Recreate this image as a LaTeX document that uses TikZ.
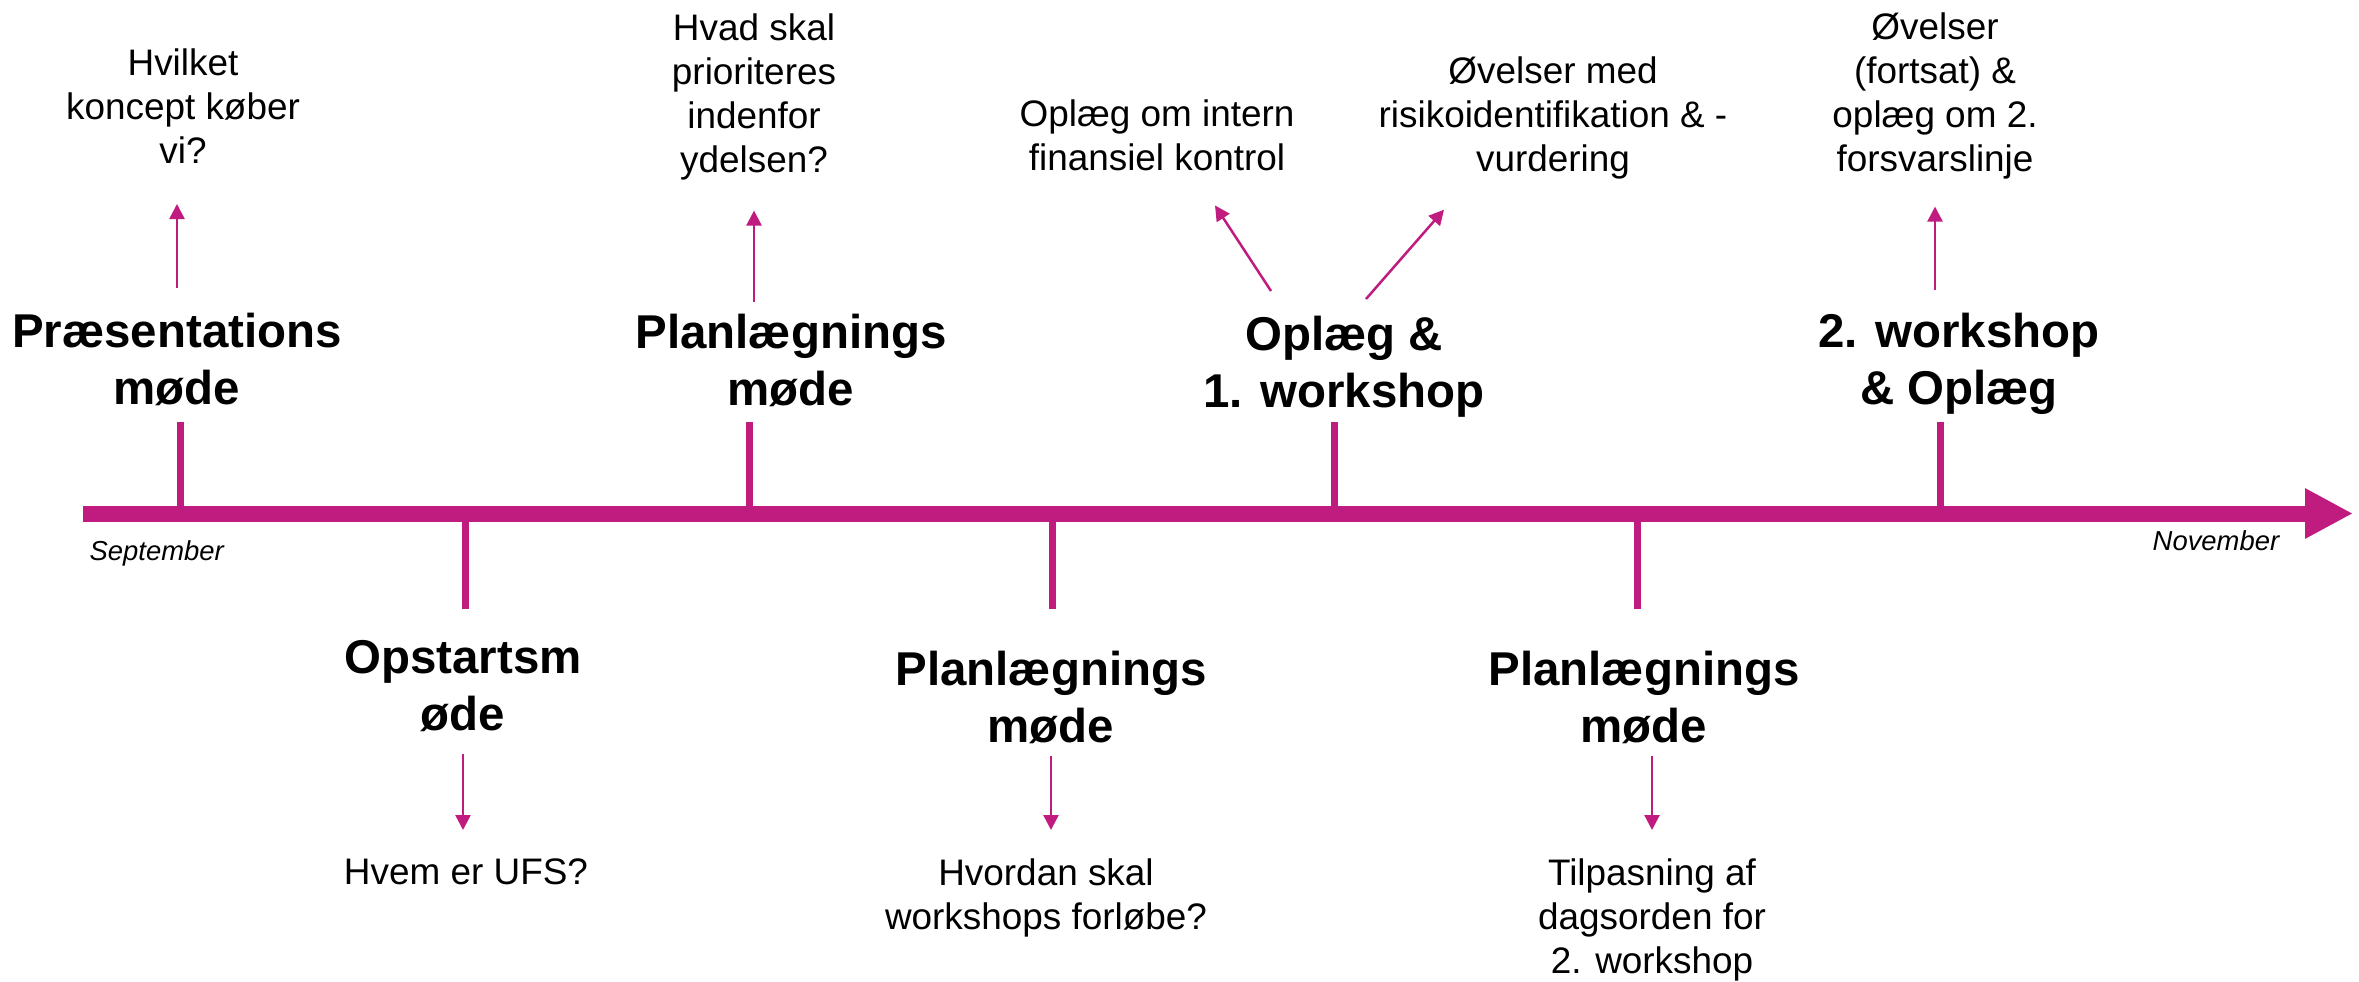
\documentclass[tikz,border=0pt]{standalone}
\usepackage{fontspec}
\setmainfont{Liberation Sans}
\usetikzlibrary{arrows.meta}
\definecolor{ufs}{RGB}{192,28,128}

\begin{document}
\begin{tikzpicture}[
axis/.style={line width=0.16cm, color=ufs, -{Triangle[length=0.48cm, width=0.47cm]}},
tick/.style={line width=0.07cm, color=ufs},
sub/.style={line width=0.025cm, color=ufs, -{Triangle[length=0.15cm, width=0.15cm]}},
title/.style={inner sep=0, anchor=north, align=center, font=\fontsize{13.5}{16.2}\selectfont\bfseries},
note/.style={inner sep=0, anchor=north, align=center, font=\fontsize{10.5}{12.5}\selectfont},
month/.style={inner sep=0, anchor=base west, font=\fontsize{7.8}{9}\selectfont\itshape}]

\useasboundingbox (0,0) rectangle (23.59,-9.82);

\coordinate (s) at (0.83,-5.135);
\coordinate (e) at (23.53,-5.135);
\draw[axis] (s) -- (e);

\foreach \n/\x/\d in {1/1.80/0.91,2/4.65/-0.95,3/7.49/0.91,4/10.52/-0.95,5/13.34/0.91,6/16.37/-0.95,7/19.40/0.91}
{\coordinate (b\n) at (\x,-5.135);
\coordinate (h\n) at (\x,{-5.135+(\d)});
\draw[tick] (b\n) -- (h\n);}

\node[title] (t1) at (1.77,-3.12) {Præsentations\\møde};
\node[title] (t2) at (4.63,-6.40) {Opstartsm\\øde};
\node[title] (t3) at (7.91,-3.13) {Planlægnings\\møde};
\node[title] (t4) at (10.51,-6.50) {Planlægnings\\møde};
\node[title] (t5) at (13.44,-3.15) {Oplæg \&\\1. workshop};
\node[title] (t6) at (16.44,-6.50) {Planlægnings\\møde};
\node[title] (t7) at (19.59,-3.12) {2. workshop\\\& Oplæg};

\node[note] (q1) at (1.83,-0.48) {Hvilket\\koncept køber\\vi?};
\node[note] (q2) at (4.66,-8.58) {Hvem er UFS?};
\node[note] (q3) at (7.54,-0.13) {Hvad skal\\prioriteres\\indenfor\\ydelsen?};
\node[note] (q4) at (10.46,-8.58) {Hvordan skal\\workshops forløbe?};
\node[note] (q5) at (11.57,-0.99) {Oplæg om intern\\finansiel kontrol};
\node[note] (r5) at (15.53,-0.56) {Øvelser med\\risikoidentifikation \& -\\vurdering};
\node[note] (q6) at (16.52,-8.58) {Tilpasning af\\dagsorden for\\2. workshop};
\node[note] (q7) at (19.35,-0.12) {Øvelser\\(fortsat) \&\\oplæg om 2.\\forsvarslinje};

\node[month] (m1) at (0.89,-5.60) {September};
\node[month] (m2) at (21.52,-5.50) {November};

\draw[sub, shorten <=0.24cm, shorten >=0.40cm] (t1.north) -- (t1.north |- q1.south);
\draw[sub, shorten <=0.21cm, shorten >=0.28cm] (t2.south) -- (t2.south |- q2.north);
\draw[sub, shorten <=0.11cm, shorten >=0.30cm] (q3.south |- t3.north) -- (q3.south);
\draw[sub, shorten <=0.12cm, shorten >=0.28cm] (t4.south) -- (t4.south |- q4.north);
\draw[sub] ([shift={(-0.73,0.24)}]t5.north) -- ([shift={(0.58,-0.34)}]q5.south);
\draw[sub] ([shift={(0.22,0.16)}]t5.north) -- ([shift={(-1.09,-0.30)}]r5.south);
\draw[sub, shorten <=0.12cm, shorten >=0.28cm] (q6.north |- t6.south) -- (q6.north);
\draw[sub, shorten <=0.22cm, shorten >=0.27cm] (q7.south |- t7.north) -- (q7.south);

\end{tikzpicture}
\end{document}
